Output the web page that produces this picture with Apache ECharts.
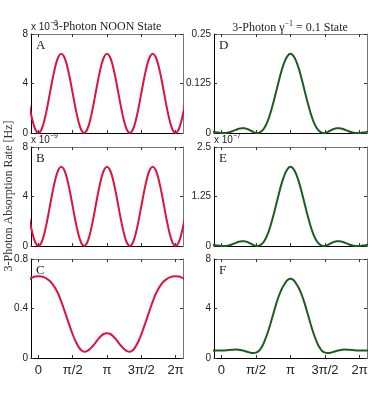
<!DOCTYPE html>
<html>
<head>
<meta charset="utf-8">
<script src="https://cdn.jsdelivr.net/npm/echarts@6/dist/echarts.min.js"></script>
<style>
  html, body { margin: 0; padding: 0; background: #fff; }
  #chart { width: 382px; height: 394px; }
</style>
</head>
<body>
<div id="chart"></div>
<script>
// phase in units of pi/12 (0 .. 24 = 0 .. 2pi), sampled every pi/24
var theta = [-2, -1.5, -1, -0.5, 0, 0.5, 1, 1.5, 2, 2.5, 3, 3.5, 4, 4.5, 5, 5.5, 6, 6.5, 7, 7.5, 8, 8.5, 9, 9.5,
  10, 10.5, 11, 11.5, 12, 12.5, 13, 13.5, 14, 14.5, 15, 15.5, 16, 16.5, 17, 17.5, 18, 18.5, 19, 19.5,
  20, 20.5, 21, 21.5, 22, 22.5, 23, 23.5, 24, 24.5, 25, 25.5, 26];
var tickUnits = [0, 6, 12, 18, 24];
var tickLabels = ['0', 'π/2', 'π', '3π/2', '2π'];

// NOON state panels (A: x1e-3, B: x1e-9, C)
var noonA = [3.2, 1.98, 0.94, 0.24,
  0, 0.24, 0.94, 1.98, 3.2, 4.42, 5.46, 6.16, 6.4, 6.16, 5.46, 4.42, 3.2, 1.98, 0.94, 0.24,
  0, 0.24, 0.94, 1.98, 3.2, 4.42, 5.46, 6.16, 6.4, 6.16, 5.46, 4.42, 3.2, 1.98, 0.94, 0.24,
  0, 0.24, 0.94, 1.98, 3.2, 4.42, 5.46, 6.16, 6.4, 6.16, 5.46, 4.42, 3.2, 1.98, 0.94, 0.24,
  0, 0.24, 0.94, 1.98, 3.2];
var noonB = [3.2, 1.98, 0.94, 0.24,
  0, 0.24, 0.94, 1.98, 3.2, 4.42, 5.46, 6.16, 6.4, 6.16, 5.46, 4.42, 3.2, 1.98, 0.94, 0.24,
  0, 0.24, 0.94, 1.98, 3.2, 4.42, 5.46, 6.16, 6.4, 6.16, 5.46, 4.42, 3.2, 1.98, 0.94, 0.24,
  0, 0.24, 0.94, 1.98, 3.2, 4.42, 5.46, 6.16, 6.4, 6.16, 5.46, 4.42, 3.2, 1.98, 0.94, 0.24,
  0, 0.24, 0.94, 1.98, 3.2];
var noonC = [0.622, 0.64, 0.652, 0.658,
  0.66, 0.658, 0.652, 0.64, 0.622, 0.595, 0.56, 0.515, 0.455, 0.39, 0.322, 0.255, 0.19, 0.135, 0.092, 0.062,
  0.05, 0.055, 0.072, 0.097, 0.125, 0.155, 0.18, 0.196, 0.2,
  0.196, 0.18, 0.155, 0.125, 0.097, 0.072, 0.055, 0.05, 0.062, 0.092, 0.135, 0.19, 0.255, 0.322, 0.39,
  0.455, 0.515, 0.56, 0.595, 0.622, 0.64, 0.652, 0.658, 0.66,
  0.658, 0.652, 0.64, 0.622];

// gamma^-1 = 0.1 state panels (D, E: x1e-7, F)
var gamD = [0.0042, 0.0035, 0.0022, 0.0012, 0.0003, 0.0002, 0.0008, 0.0026, 0.0052, 0.008, 0.0107, 0.012, 0.012, 0.010,
  0.0066, 0.0029, 0.0003, 0.0008, 0.0048, 0.0141, 0.029, 0.050, 0.0755, 0.104, 0.133, 0.160, 0.181, 0.195,
  0.2, 0.195, 0.181, 0.160, 0.133, 0.104, 0.0755, 0.050, 0.029, 0.0141, 0.0048, 0.0008, 0.0003, 0.0029,
  0.0066, 0.010, 0.012, 0.012, 0.0107, 0.008, 0.0052, 0.0026, 0.0008, 0.0002, 0.0003, 0.0012, 0.0022, 0.0035, 0.0042];
var gamE = [0.042, 0.035, 0.022, 0.012, 0.003, 0.002, 0.008, 0.026, 0.052, 0.08, 0.107, 0.12, 0.12, 0.10,
  0.066, 0.029, 0.003, 0.008, 0.048, 0.141, 0.29, 0.50, 0.755, 1.04, 1.33, 1.60, 1.81, 1.95,
  2.0, 1.95, 1.81, 1.60, 1.33, 1.04, 0.755, 0.50, 0.29, 0.141, 0.048, 0.008, 0.003, 0.029,
  0.066, 0.10, 0.12, 0.12, 0.107, 0.08, 0.052, 0.026, 0.008, 0.002, 0.003, 0.012, 0.022, 0.035, 0.042];
var gamF = [0.6, 0.6, 0.6, 0.6, 0.6, 0.61, 0.63, 0.65, 0.67, 0.68, 0.67, 0.63, 0.57, 0.5,
  0.43, 0.4, 0.43, 0.57, 0.88, 1.38, 2.0, 2.75, 3.55, 4.35, 5.05, 5.6, 6.0, 6.3,
  6.4, 6.3, 6.0, 5.6, 5.05, 4.35, 3.55, 2.75, 2.0, 1.38, 0.88, 0.57, 0.43, 0.4,
  0.43, 0.5, 0.57, 0.63, 0.67, 0.68, 0.67, 0.65, 0.63, 0.61, 0.6, 0.6, 0.6, 0.6, 0.6];

var RED = '#dc143c';
var GREEN = '#1f5c1f';

// panel layout
var panels = [
  { key: 'A', data: noonA, max: 8, step: 4, color: RED, left: 31, top: 34, w: 152, labels: false },
  { key: 'B', data: noonB, max: 8, step: 4, color: RED, left: 31, top: 147, w: 152, labels: false },
  { key: 'C', data: noonC, max: 0.8, step: 0.4, color: RED, left: 31, top: 259, w: 152, labels: true },
  { key: 'D', data: gamD, max: 0.25, step: 0.125, color: GREEN, left: 214, top: 34, w: 153, labels: false },
  { key: 'E', data: gamE, max: 2.5, step: 1.25, color: GREEN, left: 214, top: 147, w: 153, labels: false },
  { key: 'F', data: gamF, max: 8, step: 4, color: GREEN, left: 214, top: 259, w: 153, labels: true }
];

var grids = [], xAxes = [], yAxes = [], series = [], graphics = [];

panels.forEach(function (p, i) {
  grids.push({ left: p.left, top: p.top, width: p.w, height: 99 });

  // bottom / top x axes
  [['bottom', '#000'], ['top', '#777']].forEach(function (s) {
    xAxes.push({
      type: 'value', gridIndex: i, position: s[0], min: -1.3, max: 25.3,
      axisLine: { show: true, onZero: false, lineStyle: { color: s[1], width: 1 } },
      axisTick: { show: true, inside: true, length: 3, customValues: tickUnits, lineStyle: { color: '#333' } },
      axisLabel: {
        show: s[0] === 'bottom' && p.labels, customValues: tickUnits,
        fontFamily: 'Liberation Sans', fontSize: 13, color: '#222', margin: 6,
        formatter: function (v) { var k = tickUnits.indexOf(v); return k < 0 ? '' : tickLabels[k]; }
      },
      splitLine: { show: false }
    });
  });
  // left / right y axes
  [['left', '#000'], ['right', '#777']].forEach(function (s) {
    yAxes.push({
      type: 'value', gridIndex: i, position: s[0], min: 0, max: p.max, interval: p.step,
      axisLine: { show: true, onZero: false, lineStyle: { color: s[1], width: 1 } },
      axisTick: { show: true, inside: true, length: 3, lineStyle: { color: '#333' } },
      axisLabel: { show: s[0] === 'left', fontFamily: 'Liberation Sans', fontSize: 10, color: '#222', margin: 3 },
      splitLine: { show: false }
    });
  });

  series.push({
    type: 'line', xAxisIndex: 2 * i, yAxisIndex: 2 * i,
    data: theta.map(function (t, k) { return [t, p.data[k]]; }),
    smooth: 0.35, showSymbol: false, clip: true,
    lineStyle: { color: p.color, width: 2 }
  });

  graphics.push({
    type: 'text', left: p.left + 5, top: p.top + 5,
    style: { text: p.key, font: '13px "Liberation Serif"', fill: '#222' }
  });
});

// exponent labels
function expo(x, y, e) {
  return {
    type: 'text', left: x, top: y,
    style: {
      text: '{b|x 10}{s|' + e + '}',
      rich: {
        b: { font: '10px "Liberation Sans"', fill: '#222', verticalAlign: 'bottom', lineHeight: 12 },
        s: { font: '7px "Liberation Sans"', fill: '#222', verticalAlign: 'top', lineHeight: 12 }
      }
    }
  };
}
graphics.push(expo(31, 20, '−3'));
graphics.push(expo(31, 133, '−9'));
graphics.push(expo(214, 133, '−7'));

// column titles
graphics.push({
  type: 'text', x: 107, y: 27,
  style: { text: '3-Photon NOON State', font: '12px "Liberation Serif"', fill: '#222', align: 'center', verticalAlign: 'middle' }
});
graphics.push({
  type: 'text', x: 290, y: 27,
  style: {
    text: '{a|3-Photon γ}{s|−1}{a| = 0.1 State}',
    align: 'center', verticalAlign: 'middle',
    rich: {
      a: { font: '12px "Liberation Serif"', fill: '#222', verticalAlign: 'bottom', lineHeight: 14 },
      s: { font: '8px "Liberation Serif"', fill: '#222', verticalAlign: 'top', lineHeight: 14 }
    }
  }
});

// shared y axis title
graphics.push({
  type: 'text', x: 9, y: 196, rotation: Math.PI / 2,
  style: { text: '3-Photon Absorption Rate [Hz]', font: '12px "Liberation Serif"', fill: '#333', align: 'center', verticalAlign: 'middle' }
});

var chart = echarts.init(document.getElementById('chart'));
chart.setOption({
  animation: false,
  grid: grids,
  xAxis: xAxes,
  yAxis: yAxes,
  series: series,
  graphic: graphics
});
</script>
</body>
</html>
